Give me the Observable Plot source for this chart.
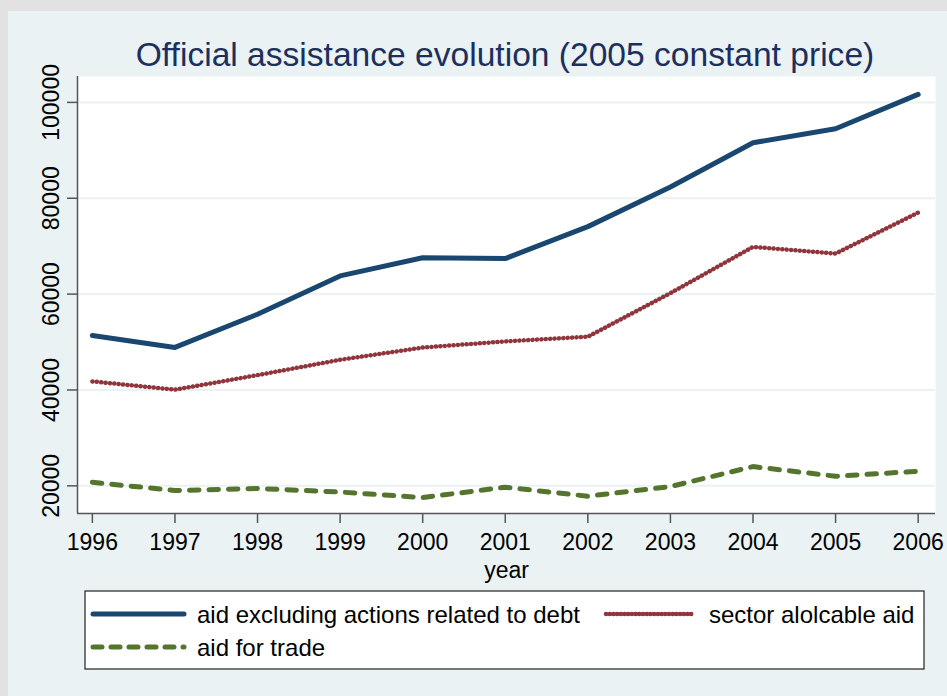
<!DOCTYPE html>
<html>
<head>
<meta charset="utf-8">
<script src="https://cdn.jsdelivr.net/npm/d3@7"></script>
<script src="https://cdn.jsdelivr.net/npm/@observablehq/plot@0.6"></script>
<style>
  body { margin: 0; background: #e2e2e2; font-family: "Liberation Sans", Arial, sans-serif; }
  #wrap { position: relative; width: 947px; height: 696px; overflow: hidden; }
  #panel { position: absolute; left: 8px; top: 11px; right: 0; bottom: 0; background: #eaf2f3; }
  #chart { position: absolute; left: 0; top: 0; }
  #overlay { position: absolute; left: 0; top: 0; pointer-events: none; }
</style>
</head>
<body>
<div id="wrap">
  <div id="panel"></div>
  <div id="chart"></div>
  <svg id="overlay" width="947" height="696"></svg>
</div>
<script>
// ---- data ----
const years = [1996, 1997, 1998, 1999, 2000, 2001, 2002, 2003, 2004, 2005, 2006];
const aidExDebt = [51350, 48880, 55800, 63800, 67600, 67420, 74080, 82350, 91580, 94500, 101670];
const sectorAid = [41790, 40060, 43100, 46300, 48850, 50130, 51110, 60210, 69850, 68460, 77000];
const aidForTrade = [20750, 19020, 19440, 18710, 17560, 19710, 17840, 19850, 24020, 22000, 23040];
const seriesNames = ["aid excluding actions related to debt", "sector alolcable aid", "aid for trade"];
const seriesColors = ["#1a476f", "#90353b", "#55752f"];
const yTicks = [20000, 40000, 60000, 80000, 100000];
const titleText = "Official assistance evolution (2005 constant price)";
const xLabel = "year";

const toRows = (vals, s) => years.map((y, i) => ({year: y, value: vals[i], series: s}));
const rows0 = toRows(aidExDebt, seriesNames[0]);
const rows1 = toRows(sectorAid, seriesNames[1]);
const rows2 = toRows(aidForTrade, seriesNames[2]);

const xDomain = [1995.82, 2006.21];
const yDomain = [14230, 105400];
const axisColor = "#555";

const chart = Plot.plot({
  width: 947,
  height: 696,
  marginTop: 76,
  marginLeft: 77,
  marginRight: 12,
  marginBottom: 183,
  style: {background: "transparent", fontFamily: "'Liberation Sans', Arial, sans-serif", color: "#000"},
  x: {domain: xDomain},
  y: {domain: yDomain},
  marks: [
    Plot.frame({fill: "white", stroke: "none"}),
    Plot.gridY(yTicks, {stroke: "#eaf2f3", strokeOpacity: 1, strokeWidth: 2}),
    Plot.ruleX([xDomain[0]], {stroke: axisColor, strokeWidth: 1.5}),
    Plot.ruleY([yDomain[0]], {stroke: axisColor, strokeWidth: 1.5}),
    Plot.axisY({ticks: yTicks, tickSize: 10, tickRotate: -90, tickPadding: 9, fontSize: 23,
      tickFormat: "d", label: null, stroke: axisColor, strokeWidth: 1.5, fill: "#000"}),
    Plot.axisX({ticks: years, tickSize: 10, tickPadding: 10.5, fontSize: 23, tickFormat: "d",
      label: xLabel, labelAnchor: "center", labelArrow: "none", labelOffset: 64,
      stroke: axisColor, strokeWidth: 1.5, fill: "#000"}),
    Plot.line(rows2, {x: "year", y: "value", stroke: seriesColors[2], strokeWidth: 5,
      strokeDasharray: "9.5,10", strokeLinecap: "round", strokeLinejoin: "round"}),
    Plot.line(rows1, {x: "year", y: "value", stroke: seriesColors[1], strokeWidth: 4.5,
      strokeDasharray: "0.1,4.3", strokeLinecap: "round", strokeLinejoin: "round"}),
    Plot.line(rows0, {x: "year", y: "value", stroke: seriesColors[0], strokeWidth: 5,
      strokeLinecap: "round", strokeLinejoin: "round"})
  ]
});
document.getElementById("chart").appendChild(chart);

// ---- title and legend (outside the plot) ----
const ov = d3.select("#overlay");
ov.append("text")
  .attr("x", 505).attr("y", 66)
  .attr("text-anchor", "middle")
  .attr("font-family", "'Liberation Sans', Arial, sans-serif")
  .attr("font-size", 33.6)
  .attr("fill", "#1c2f5e")
  .text(titleText);

const lg = ov.append("g");
lg.append("rect").attr("x", 85).attr("y", 591).attr("width", 839).attr("height", 78)
  .attr("fill", "white").attr("stroke", "#222").attr("stroke-width", 1.2);
const legendItems = [
  {x: 93, y: 614, name: seriesNames[0], color: seriesColors[0], w: 5, dash: null},
  {x: 606, y: 614, name: seriesNames[1], color: seriesColors[1], w: 4.5, dash: "0.1,3.6"},
  {x: 93, y: 647, name: seriesNames[2], color: seriesColors[2], w: 5, dash: "9,9"}
];
legendItems.forEach((it, i) => {
  const len = i === 1 ? 88 : 91;
  lg.append("line")
    .attr("x1", it.x).attr("x2", it.x + len).attr("y1", it.y).attr("y2", it.y)
    .attr("stroke", it.color).attr("stroke-width", it.w)
    .attr("stroke-linecap", "round")
    .attr("stroke-dasharray", it.dash);
  lg.append("text")
    .attr("x", it.x + (i === 1 ? 103 : 104)).attr("y", it.y + 8.5)
    .attr("font-family", "'Liberation Sans', Arial, sans-serif")
    .attr("font-size", 24)
    .attr("fill", "#000")
    .text(it.name);
});
</script>
</body>
</html>
